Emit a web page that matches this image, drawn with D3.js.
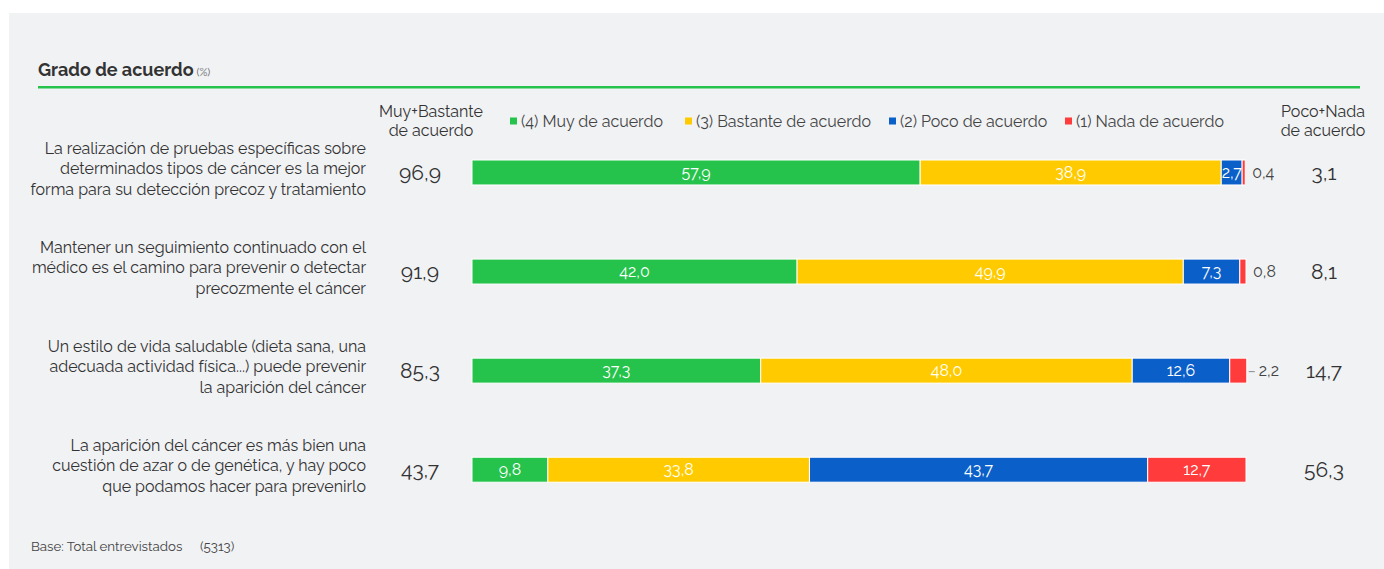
<!DOCTYPE html>
<html>
<head>
<meta charset="utf-8">
<script src="https://cdn.jsdelivr.net/npm/d3@7"></script>
<style>
  body { margin: 0; background: #fff; }
  svg text { font-family: Raleway, Lato, "Open Sans", sans-serif; }
</style>
</head>
<body>
<div id="chart"></div>
<script>
var w = 1384;
var h = 569;

// data
var statements = [
  ["La realización de pruebas específicas sobre", "determinados tipos de cáncer es la mejor", "forma para su detección precoz y tratamiento"],
  ["Mantener un seguimiento continuado con el", "médico es el camino para prevenir o detectar", "precozmente el cáncer"],
  ["Un estilo de vida saludable (dieta sana, una", "adecuada actividad física...) puede prevenir", "la aparición del cáncer"],
  ["La aparición del cáncer es más bien una", "cuestión de azar o de genética, y hay poco", "que podamos hacer para prevenirlo"]
];
var seriesNames = ["(4) Muy de acuerdo", "(3) Bastante de acuerdo", "(2) Poco de acuerdo", "(1) Nada de acuerdo"];
var muy = [57.9, 42.0, 37.3, 9.8];
var bastante = [38.9, 49.9, 48.0, 33.8];
var poco = [2.7, 7.3, 12.6, 43.7];
var nada = [0.4, 0.8, 2.2, 12.7];
var totalAgree = [96.9, 91.9, 85.3, 43.7];
var totalDisagree = [3.1, 8.1, 14.7, 56.3];
var colors = ["#25c34b", "#ffcb00", "#0b5fc8", "#ff3b3b"];

var locale = d3.formatLocale({decimal: ",", thousands: ".", grouping: [3], currency: ["", "€"]});
var fmt = locale.format(".1f");

var svg = d3.select("#chart").append("svg")
  .attr("width", w)
  .attr("height", h);

// panel background
svg.append("rect")
  .attr("x", 9).attr("y", 13)
  .attr("width", w - 9).attr("height", h - 13)
  .attr("fill", "#f1f2f4");

// title
var title = svg.append("text")
  .attr("x", 38).attr("y", 76)
  .attr("fill", "#333")
  .style("font-size", "18px")
  .style("font-weight", "bold");
title.append("tspan").text("Grado de acuerdo");
title.append("tspan").text(" (%)")
  .style("font-size", "11px").style("font-weight", "normal").attr("fill", "#666");

svg.append("rect")
  .attr("x", 38).attr("y", 86)
  .attr("width", 1322).attr("height", 2.5)
  .attr("fill", "#25c34b");

var x = d3.scaleLinear().domain([0, 100]).range([472, 1246]);
var y = d3.scaleBand().domain(d3.range(statements.length)).range([160, 482.2]).paddingInner(0.748).paddingOuter(0);

// column headers
function header(cx, lines) {
  var t = svg.append("text").attr("text-anchor", "middle").attr("fill", "#333").style("font-size", "16px");
  lines.forEach(function(l, i) {
    t.append("tspan").attr("x", cx).attr("y", 117 + i * 19).text(l);
  });
}
header(431, ["Muy+Bastante", "de acuerdo"]);
header(1323, ["Poco+Nada", "de acuerdo"]);

// legend
var legendX = [510, 685, 889, 1065];
var legend = svg.selectAll(".legend")
    .data(seriesNames)
  .enter().append("g")
    .attr("class", "legend")
    .attr("transform", function(d, i) { return "translate(" + legendX[i] + ",121)"; });
legend.append("rect")
  .attr("x", 0).attr("y", -3.5).attr("width", 7).attr("height", 7)
  .attr("fill", function(d, i) { return colors[i]; });
legend.append("text")
  .attr("x", 11).attr("dy", "0.35em")
  .attr("fill", "#444")
  .style("font-size", "16px")
  .text(function(d) { return d; });

// rows
var rows = statements.map(function(s, i) {
  return { label: s, values: [muy[i], bastante[i], poco[i], nada[i]], agree: totalAgree[i], disagree: totalDisagree[i], i: i };
});

var row = svg.selectAll(".row")
    .data(rows)
  .enter().append("g")
    .attr("class", "row")
    .attr("transform", function(d) { return "translate(0," + y(d.i) + ")"; });

var bh = y.bandwidth();

row.append("text")
  .attr("text-anchor", "end")
  .attr("fill", "#333")
  .style("font-size", "16px")
  .each(function(d) {
    var t = d3.select(this);
    d.label.forEach(function(l, k) {
      t.append("tspan").attr("x", 366).attr("y", bh / 2 + (k - 1) * 20.5 - 4).attr("dy", "0.35em").text(l);
    });
  });

row.append("text")
  .attr("x", 420).attr("y", bh / 2).attr("dy", "0.35em")
  .attr("text-anchor", "middle")
  .attr("fill", "#333")
  .style("font-size", "21px")
  .text(function(d) { return fmt(d.agree); });

row.append("text")
  .attr("x", 1324).attr("y", bh / 2).attr("dy", "0.35em")
  .attr("text-anchor", "middle")
  .attr("fill", "#333")
  .style("font-size", "21px")
  .text(function(d) { return fmt(d.disagree); });

row.each(function(d) {
  var g = d3.select(this);
  var stack = d3.cumsum(d.values);
  var segs = d.values.map(function(v, k) { return { v: v, k: k, x0: stack[k] - v, x1: stack[k] }; });

  g.selectAll(".seg")
      .data(segs)
    .enter().append("rect")
      .attr("class", "seg")
      .attr("x", function(s) { return x(s.x0); })
      .attr("width", function(s) { return x(s.x1) - x(s.x0); })
      .attr("y", 0)
      .attr("height", bh)
      .attr("fill", function(s) { return colors[s.k]; })
      .attr("stroke", "#fff")
      .attr("stroke-width", 1);

  // labels inside
  g.selectAll(".seglabel")
      .data(segs.filter(function(s) { return s.v >= 2.5; }))
    .enter().append("text")
      .attr("class", "seglabel")
      .attr("x", function(s) { return (x(s.x0) + x(s.x1)) / 2; })
      .attr("y", bh / 2).attr("dy", "0.35em")
      .attr("text-anchor", "middle")
      .attr("fill", "#fff")
      .style("font-size", "16px")
      .text(function(s) { return fmt(s.v); });

  // small ones outside
  segs.filter(function(s) { return s.v < 2.5; }).forEach(function(s) {
    var ex = x(s.x1);
    if (s.v > 1) {
      g.append("line")
        .attr("x1", ex + 2).attr("x2", ex + 8)
        .attr("y1", bh / 2 + 1).attr("y2", bh / 2 + 1)
        .attr("stroke", "#888");
      ex += 12;
    } else {
      ex += 7;
    }
    g.append("text")
      .attr("x", ex).attr("y", bh / 2).attr("dy", "0.35em")
      .attr("fill", "#444")
      .style("font-size", "16px")
      .text(fmt(s.v));
  });
});

// footer
var foot = svg.append("text")
  .attr("x", 31).attr("y", 551)
  .attr("fill", "#444")
  .style("font-size", "13.3px");
foot.append("tspan").text("Base: Total entrevistados");
foot.append("tspan").attr("x", 200).text("(5313)");
</script>
</body>
</html>
